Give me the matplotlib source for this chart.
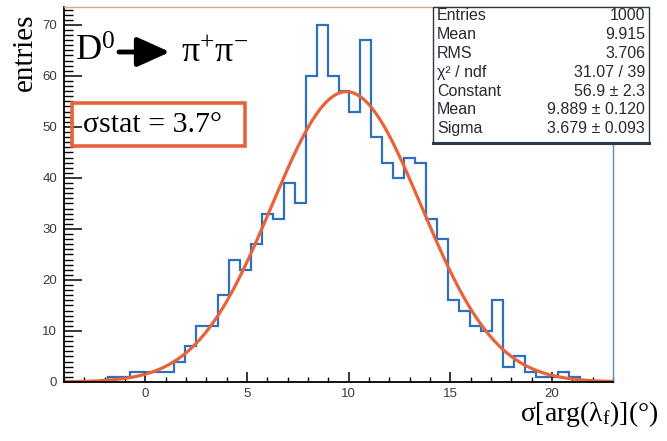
import numpy as np
import matplotlib
matplotlib.use("Agg")
import matplotlib.pyplot as plt
from matplotlib.patches import Rectangle
from matplotlib.lines import Line2D

plt.rcParams['mathtext.fontset'] = 'custom'
plt.rcParams['mathtext.rm'] = 'Liberation Serif'
plt.rcParams['mathtext.it'] = 'Liberation Serif:italic'
plt.rcParams['mathtext.bf'] = 'Liberation Serif:bold'

# ---- data ----
bin_lo, bin_hi, n_bins = -4.0, 23.0, 50
counts = [0, 0, 0, 0, 1, 1, 2, 2, 2, 2,
          4, 7, 11, 11, 17, 24, 22, 27, 33, 32,
          39, 35, 60, 70, 60, 57, 53, 67, 48, 43,
          40, 44, 43, 32, 28, 16, 14, 11, 10, 16,
          3, 5, 2, 1, 1, 2, 1, 0, 0, 0]
fit_const, fit_mean, fit_sigma = 56.9, 9.889, 3.679
x_ticks = [0, 5, 10, 15, 20]
y_ticks = [0, 10, 20, 30, 40, 50, 60, 70]
stat_names = ["Entries", "Mean", "RMS", "χ² / ndf", "Constant", "Mean", "Sigma"]
stat_values = ["1000", "9.915", "3.706", "31.07 / 39", "56.9 ± 2.3",
               "9.889 ± 0.120", "3.679 ± 0.093"]

W, H = 667, 441
fig = plt.figure(figsize=(W / 100, H / 100), dpi=100)

def fx(x):
    return x / W

def fy(y):
    return 1 - y / H

left, right, top, bottom = 64, 613, 7, 382
ax = fig.add_axes([fx(left), fy(bottom), (right - left) / W, (bottom - top) / H])

edges = np.linspace(bin_lo, bin_hi, n_bins + 1)
ax.stairs(counts, edges, color='#2f6fbf', lw=1.6, baseline=0)

xf = np.linspace(bin_lo, bin_hi, 500)
yf = fit_const * np.exp(-0.5 * ((xf - fit_mean) / fit_sigma) ** 2)
ax.plot(xf, yf, color='#e8623a', lw=2.3)

ax.set_xlim(bin_lo, bin_hi)
ax.set_ylim(0, 73.5)
ax.set_xticks(x_ticks)
ax.set_xticks(np.arange(-4, 24, 1), minor=True)
ax.set_yticks(y_ticks)
ax.set_yticks(np.arange(0, 74, 1), minor=True)

lab_font = dict(family='Liberation Sans', size=9.5)
ax.set_xticklabels([str(v) for v in x_ticks], color='#3a3a3a', **lab_font)
ax.set_yticklabels([str(v) for v in y_ticks], color='#3a3a3a', **lab_font)
ax.tick_params(axis='x', which='major', direction='in', length=7, width=1.1, pad=4, color='black')
ax.tick_params(axis='x', which='minor', direction='in', length=3.6, width=1.0, color='black')
ax.tick_params(axis='y', which='major', direction='in', length=13, width=1.1, pad=5, color='black')
ax.tick_params(axis='y', which='minor', direction='in', length=6.5, width=1.0, color='black')

for s in ['left', 'bottom']:
    ax.spines[s].set_color('black')
    ax.spines[s].set_linewidth(1.3)
ax.spines['top'].set_color('#dba596')
ax.spines['top'].set_linewidth(1.0)
ax.spines['right'].set_color('#6a8cb0')
ax.spines['right'].set_linewidth(1.0)

# axis titles
fig.text(fx(25), fy(52), "entries", rotation=90, ha='center', va='center',
         family='Liberation Serif', size=21)
fig.text(fx(658), fy(414), r"σ[arg(λ$_{\mathrm{f}}$)](°)", ha='right', va='center',
         family='Liberation Serif', size=20)

# decay label
fig.text(fx(75), fy(52), r"D$^{0}$", ha='left', va='center',
         family='Liberation Serif', size=26)
fig.text(fx(181), fy(54), r"π$^{+}$π$^{-}$", ha='left', va='center',
         family='Liberation Serif', size=26)
ax.annotate("", xy=(170, H - 52), xytext=(119, H - 52), xycoords='figure pixels',
            textcoords='figure pixels',
            arrowprops=dict(arrowstyle='-|>,head_length=1.0,head_width=0.45',
                            lw=3.5, color='black', mutation_scale=20,
                            shrinkA=0, shrinkB=0))

# sigma stat box
fig.add_artist(Rectangle((fx(72), fy(146)), (245 - 72) / W, (146 - 103) / H,
                         transform=fig.transFigure, facecolor='none',
                         edgecolor='#e8623a', lw=2.6, zorder=5))
fig.text(fx(83), fy(125), "σstat = 3.7°", ha='left', va='center',
         family='Liberation Serif', size=21.5, zorder=6)

# stats box
fig.add_artist(Rectangle((fx(433), fy(143)), (649 - 433) / W, (143 - 7) / H,
                         transform=fig.transFigure, facecolor='white',
                         edgecolor='#2a3a4a', lw=1.0, zorder=5))
fig.add_artist(Line2D([fx(433), fx(649)], [fy(143), fy(143)],
                      transform=fig.transFigure, color='#2a3a4a', lw=2.2, zorder=6))
for i, (n, v) in enumerate(zip(stat_names, stat_values)):
    yy = 16 + 18.8 * i
    fig.text(fx(437), fy(yy), n, ha='left', va='center', family='Liberation Sans',
             size=11.5, color='#2a2a2a', zorder=7)
    fig.text(fx(645), fy(yy), v, ha='right', va='center', family='Liberation Sans',
             size=11.5, color='#2a2a2a', zorder=7)

fig.savefig("out.png", dpi=100)
